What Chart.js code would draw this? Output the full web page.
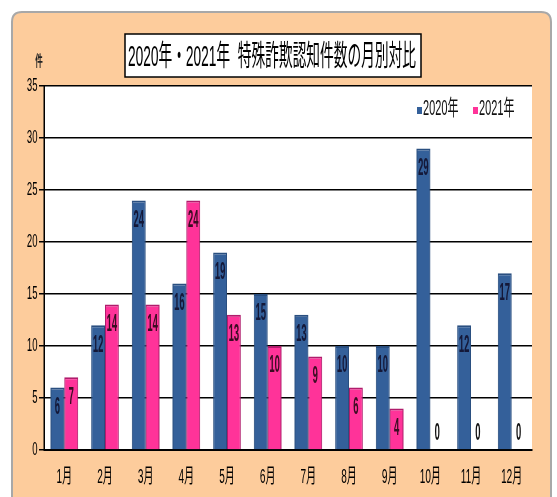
<!DOCTYPE html>
<html><head><meta charset="utf-8">
<script src="https://cdn.jsdelivr.net/npm/chart.js@4.4.0/dist/chart.umd.min.js"></script>
<style>
html,body{margin:0;padding:0;overflow:hidden;background:#fff;width:557px;height:497px}
#wrap{position:absolute;left:0;top:0;width:1114px;height:497px;transform:scaleX(0.5);transform-origin:0 0}
</style></head><body>
<div id="wrap"><canvas id="c"></canvas></div>
<script>
const SX = 0.5;
const titleText = '2020年・2021年  特殊詐欺認知件数の月別対比';
const unitLabel = '件';
const months = ['1月','2月','3月','4月','5月','6月','7月','8月','9月','10月','11月','12月'];
const series2020 = [6,12,24,16,19,15,13,10,10,29,12,17];
const series2021 = [7,14,14,24,13,10,9,6,4,0,0,0];
const seriesNames = ['2020年','2021年'];
const yMin = 0, yMax = 35, yStep = 5;

const FONT = '"Liberation Sans", "Noto Sans CJK JP", sans-serif';
const X = v => v / SX;
const BLUE = '#34609a', PINK = '#ff3399';

function roundPath(ctx, x, y, w, h, r){
  ctx.beginPath();
  ctx.moveTo(x + r, y);
  ctx.lineTo(x + w - r, y);
  ctx.quadraticCurveTo(x + w, y, x + w, y + r);
  ctx.lineTo(x + w, y + h);
  ctx.lineTo(x, y + h);
  ctx.lineTo(x, y + r);
  ctx.quadraticCurveTo(x, y, x + r, y);
  ctx.closePath();
}

const deco = {
  id: 'deco',
  beforeDraw(chart){
    const ctx = chart.ctx, a = chart.chartArea;
    ctx.save();
    ctx.fillStyle = '#fff';
    ctx.fillRect(0, 0, chart.width, chart.height);
    ctx.scale(1 / SX, 1);
    roundPath(ctx, 12, 12, 539, 520, 10);
    ctx.fillStyle = '#fdcc9c';
    ctx.fill();
    ctx.strokeStyle = '#a8a8a8';
    ctx.lineWidth = 2;
    ctx.stroke();
    ctx.restore();
    ctx.save();
    ctx.fillStyle = '#fff';
    ctx.fillRect(a.left, a.top, a.right - a.left, a.bottom - a.top);
    ctx.restore();
  },
  afterDatasetsDraw(chart){
    const ctx = chart.ctx;
    chart.data.datasets.forEach((ds, i) => {
      const meta = chart.getDatasetMeta(i);
      meta.data.forEach((el, j) => {
        const v = ds.data[j];
        const y = v > 0 ? el.y + 20 : el.base - 16;
        ctx.save();
        ctx.font = 'bold 23px ' + FONT;
        ctx.textAlign = 'center';
        ctx.textBaseline = 'middle';
        ctx.fillStyle = v > 0 ? ds.labelColor : '#111';
        ctx.translate(el.x, y);
        ctx.scale(0.82, 1);
        ctx.fillText(String(v), 0, 0);
        ctx.restore();
      });
    });
  },
  afterDraw(chart){
    const ctx = chart.ctx;
    // title box
    ctx.save();
    ctx.scale(1 / SX, 1);
    ctx.fillStyle = '#fff';
    ctx.fillRect(125, 34, 296, 43);
    ctx.strokeStyle = '#000';
    ctx.lineWidth = 1.5;
    ctx.strokeRect(125, 34, 296, 43);
    ctx.restore();
    ctx.save();
    ctx.fillStyle = '#000';
    ctx.font = '29px ' + FONT;
    ctx.textAlign = 'center';
    ctx.textBaseline = 'middle';
    ctx.fillText(titleText, X(272), 58, X(288));
    // unit label
    ctx.font = 'bold 15px ' + FONT;
    ctx.fillStyle = '#222';
    ctx.fillText(unitLabel, X(39), 62);
    // legend
    const items = chart.data.datasets;
    const lx = [417, 473];
    ctx.font = '22px ' + FONT;
    ctx.textAlign = 'left';
    items.forEach((ds, i) => {
      ctx.fillStyle = ds.backgroundColor;
      ctx.fillRect(X(lx[i]), 107, X(5), 7);
      ctx.fillStyle = '#111';
      ctx.fillText(ds.label, X(lx[i] + 6), 109, X(36));
    });
    ctx.restore();
  }
};

new Chart(document.getElementById('c'), {
  type: 'bar',
  data: {
    labels: months,
    datasets: [
      {label: seriesNames[0], data: series2020, backgroundColor: BLUE, borderColor: '#2a4f80', borderWidth: 2, labelColor: '#141838', categoryPercentage: 0.68, barPercentage: 1},
      {label: seriesNames[1], data: series2021, backgroundColor: PINK, borderColor: '#b01c6c', borderWidth: 2, labelColor: '#3a0c22', categoryPercentage: 0.68, barPercentage: 1}
    ]
  },
  options: {
    responsive: true,
    maintainAspectRatio: false,
    devicePixelRatio: 1,
    animation: false,
    layout: {padding: {top: 86, right: X(557 - 532), bottom: 0, left: 0}},
    plugins: {legend: {display: false}, title: {display: false}, tooltip: {enabled: false}},
    scales: {
      x: {
        grid: {display: false, drawTicks: false},
        border: {display: true, color: '#000', width: 2},
        ticks: {color: '#000', font: {family: FONT, size: 20}, padding: 15},
        afterFit(s){ s.height = 497 - 450; }
      },
      y: {
        min: yMin, max: yMax,
        ticks: {stepSize: yStep, color: '#000', font: {family: FONT, size: 19}, padding: 3},
        grid: {color: '#000', lineWidth: 1.5, tickLength: 10, drawTicks: true},
        border: {display: true, color: '#000', width: 3},
        afterFit(s){ s.width = X(44); }
      }
    }
  },
  plugins: [deco]
});
</script>
</body></html>
